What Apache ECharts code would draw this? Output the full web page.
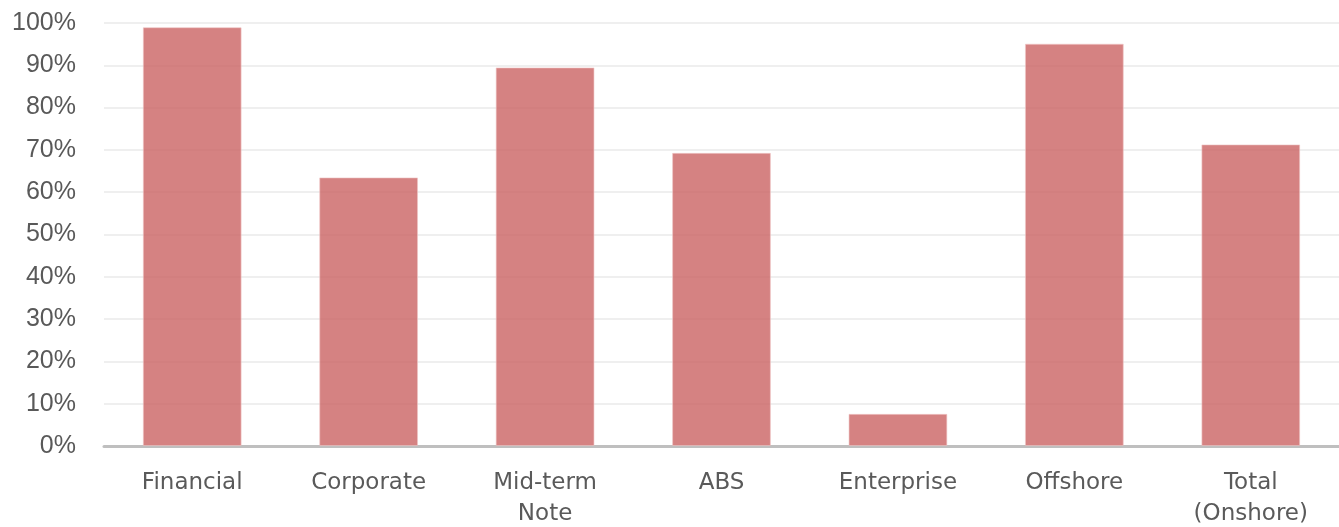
<!DOCTYPE html>
<html><head><meta charset="utf-8">
<script src="https://cdn.jsdelivr.net/npm/echarts@6/dist/echarts.min.js"></script>
<style>html,body{margin:0;padding:0;background:#fff;overflow:hidden}#c{width:1339px;height:527px}</style>
</head><body><div id="c"></div>
<script>
const categories = ['Financial', 'Corporate', 'Mid-term\nNote', 'ABS', 'Enterprise', 'Offshore', 'Total\n(Onshore)'];
const values = [99.0, 63.5, 89.5, 69.3, 7.6, 95.1, 71.3];
const yTicks = { min: 0, max: 100, interval: 10 };

const chart = echarts.init(document.getElementById('c'), null, { renderer: 'canvas' });
chart.setOption({
  animation: false,
  grid: { left: 104, right: 0, top: 23, bottom: 81, containLabel: false, outerBoundsMode: 'none' },
  xAxis: {
    type: 'category', data: categories,
    axisLine: { lineStyle: { color: '#bfbfbf', width: 3 } },
    axisTick: { show: false },
    axisLabel: { color: '#5a5a5a', fontSize: 23, fontFamily: 'DejaVu Sans', margin: 22, lineHeight: 31, interval: 0 }
  },
  yAxis: {
    type: 'value', min: yTicks.min, max: yTicks.max, interval: yTicks.interval,
    axisLine: { show: false }, axisTick: { show: false },
    splitLine: { lineStyle: { color: '#efefef', width: 2 } },
    axisLabel: { color: '#595959', fontSize: 25, fontFamily: 'Liberation Sans', margin: 28, formatter: v => v + '%' }
  },
  series: [{
    type: 'bar', data: values, barWidth: '56%',
    itemStyle: { color: 'rgba(204,102,102,0.82)', borderColor: 'rgba(240,200,200,0.6)', borderWidth: 1 }
  }]
});
</script></body></html>
